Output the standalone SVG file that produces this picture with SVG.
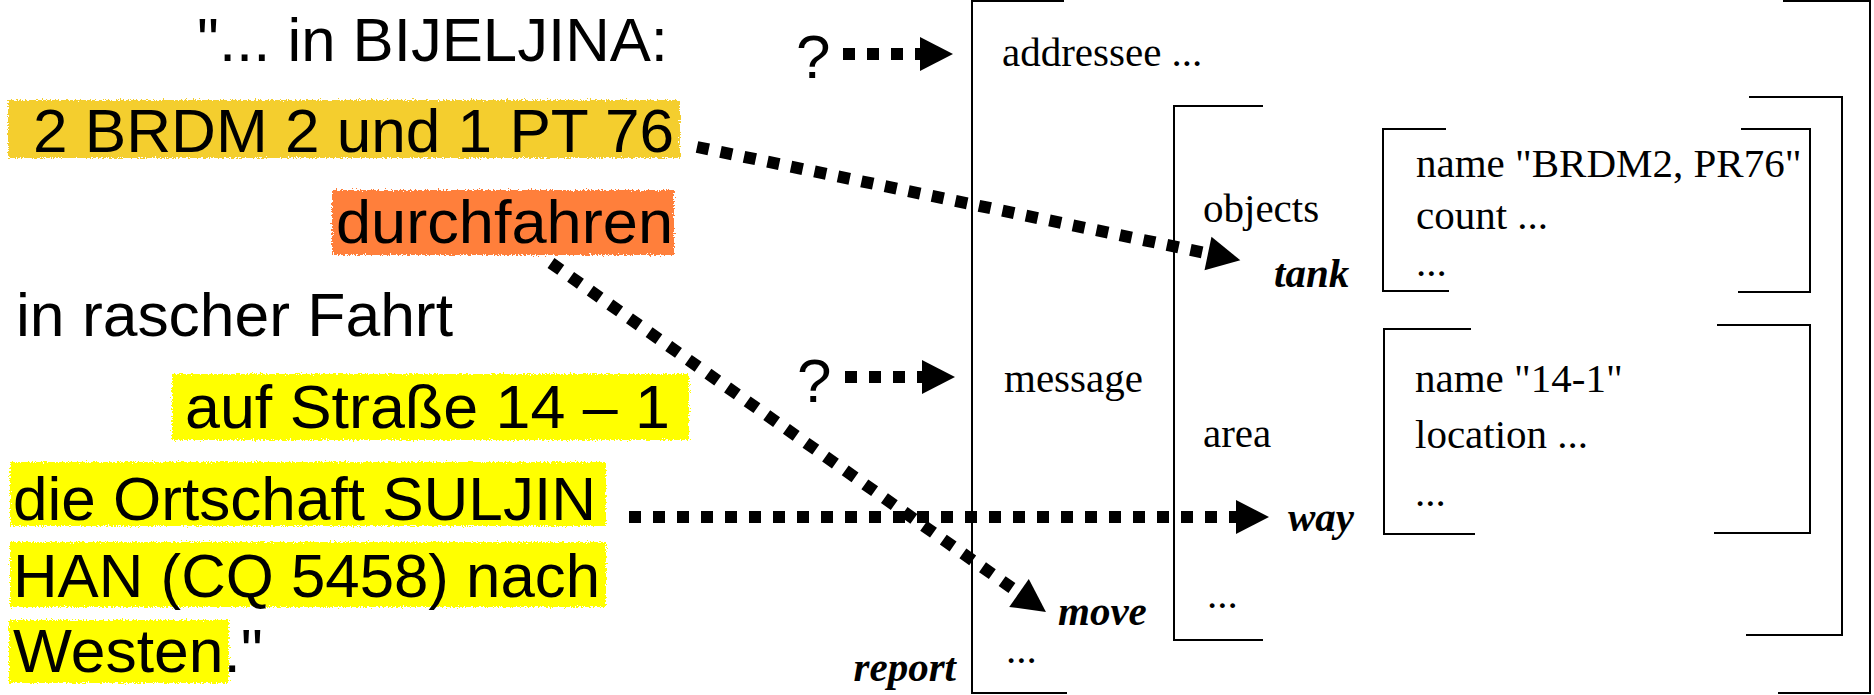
<svg xmlns="http://www.w3.org/2000/svg" width="1874" height="695" viewBox="0 0 1874 695">
<style>
.src{font-family:"Liberation Sans","Arial",sans-serif;font-size:62px;fill:#000}
.ser{font-family:"Liberation Serif","Times New Roman",serif;font-size:41px;fill:#000}
.bi{font-family:"Liberation Serif","Times New Roman",serif;font-size:41px;font-weight:bold;font-style:italic;fill:#000}
.br{fill:none;stroke:#000;stroke-width:2}
.dot{fill:none;stroke:#000;stroke-width:12;stroke-dasharray:12 12}
.hl-gold{fill:#F4CE2E}
.hl-org{fill:#FF7F3A}
.hl-yel{fill:#FFFF00}
</style>
<defs>
<filter id="rough" x="-3%" y="-15%" width="106%" height="130%">
<feTurbulence type="fractalNoise" baseFrequency="0.6" numOctaves="2" seed="4" result="n"/>
<feDisplacementMap in="SourceGraphic" in2="n" scale="6" xChannelSelector="R" yChannelSelector="G"/>
</filter>
<marker id="ah" markerUnits="userSpaceOnUse" markerWidth="34" markerHeight="36" refX="0" refY="17" orient="auto" overflow="visible">
<path d="M0,0 L33,17 L0,34 Z" fill="#000"/>
</marker>
</defs>
<rect width="1874" height="695" fill="#fff"/>

<g id="highlights" filter="url(#rough)">
<rect class="hl-gold" x="8" y="100" width="672" height="58"/>
<rect class="hl-org" x="332" y="190" width="342" height="65"/>
<rect class="hl-yel" x="172" y="374" width="517" height="66"/>
<rect class="hl-yel" x="10" y="462" width="596" height="64"/>
<rect class="hl-yel" x="10" y="542" width="596" height="65"/>
<rect class="hl-yel" x="9" y="620" width="220" height="63"/>
</g>

<g id="source-text">
<text class="src" x="197" y="61" textLength="471" lengthAdjust="spacingAndGlyphs">"... in BIJELJINA:</text>
<text class="src" x="33" y="152" textLength="641" lengthAdjust="spacingAndGlyphs">2 BRDM 2 und 1 PT 76</text>
<text class="src" x="336" y="243" textLength="337" lengthAdjust="spacingAndGlyphs">durchfahren</text>
<text class="src" x="16" y="336" textLength="437" lengthAdjust="spacingAndGlyphs">in rascher Fahrt</text>
<text class="src" x="185" y="428" textLength="485" lengthAdjust="spacingAndGlyphs">auf Straße 14 – 1</text>
<text class="src" x="13" y="520" textLength="583" lengthAdjust="spacingAndGlyphs">die Ortschaft SULJIN</text>
<text class="src" x="13" y="597" textLength="587" lengthAdjust="spacingAndGlyphs">HAN (CQ 5458) nach</text>
<text class="src" x="13" y="672" textLength="250" lengthAdjust="spacingAndGlyphs">Westen."</text>
<text class="src" x="796" y="78">?</text>
<text class="src" x="797" y="402">?</text>
</g>

<g id="report">
<path class="br" d="M1064,1 H972 V693 H1067"/>
<path class="br" d="M1783,1 H1870 V693 H1778"/>
<text class="ser" x="1002" y="66">addressee ...</text>
<text class="ser" x="1004" y="392">message</text>
<text class="bi" x="956" y="681" text-anchor="end">report</text>
<text class="ser" x="1006" y="663">...</text>
</g>

<g id="move">
<path class="br" d="M1263,106 H1174 V640 H1263"/>
<path class="br" d="M1749,97 H1842 V635 H1746"/>
<text class="bi" x="1058" y="625">move</text>
<text class="ser" x="1203" y="222">objects</text>
<text class="ser" x="1203" y="447">area</text>
<text class="ser" x="1207" y="608">...</text>
</g>

<g id="tank">
<path class="br" d="M1446,129 H1383 V291 H1449"/>
<path class="br" d="M1741,129 H1810 V292 H1738"/>
<text class="bi" x="1274" y="287">tank</text>
<text class="ser" x="1416" y="177">name "BRDM2, PR76"</text>
<text class="ser" x="1416" y="229">count ...</text>
<text class="ser" x="1416" y="276">...</text>
</g>

<g id="way">
<path class="br" d="M1471,329 H1384 V534 H1475"/>
<path class="br" d="M1717,325 H1810 V533 H1714"/>
<text class="bi" x="1288" y="531">way</text>
<text class="ser" x="1415" y="392">name "14-1"</text>
<text class="ser" x="1415" y="448">location ...</text>
<text class="ser" x="1415" y="506">...</text>
</g>

<g id="connectors">
<line class="dot" x1="843" y1="54" x2="920" y2="54" marker-end="url(#ah)"/>
<line class="dot" x1="845" y1="377" x2="922" y2="377" marker-end="url(#ah)"/>
<line class="dot" x1="697" y1="147" x2="1208" y2="253.5" marker-end="url(#ah)"/>
<line class="dot" x1="551" y1="263" x2="1019" y2="593" marker-end="url(#ah)"/>
<line class="dot" x1="629" y1="517" x2="1236" y2="517" marker-end="url(#ah)"/>
</g>
</svg>
